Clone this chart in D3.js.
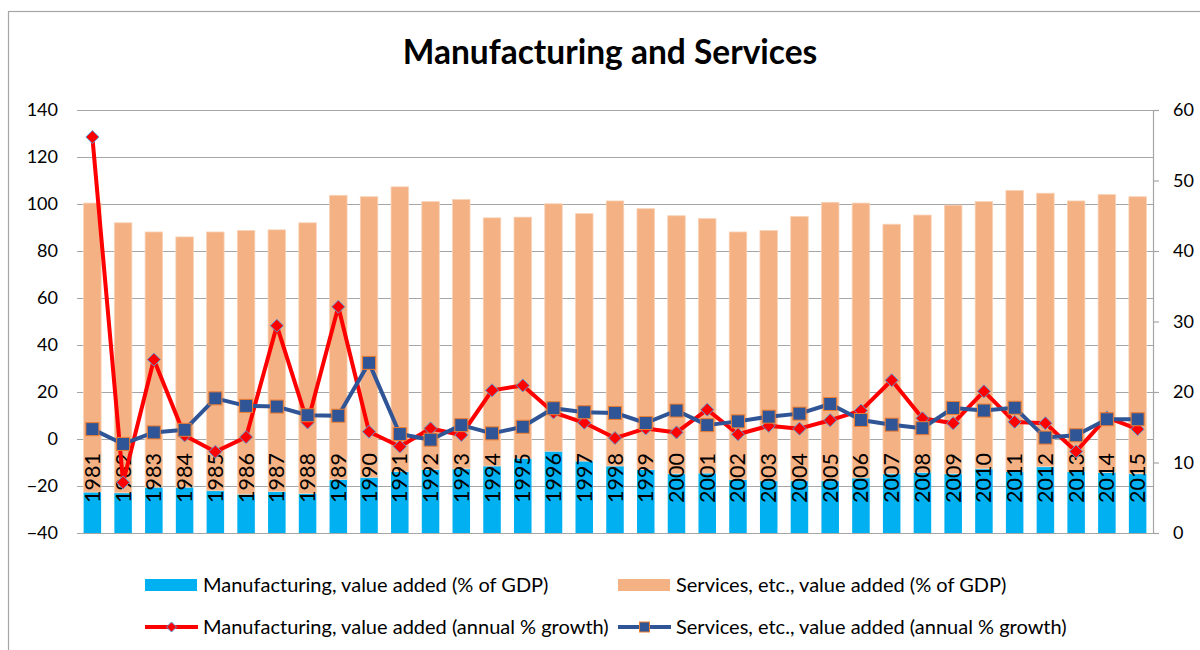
<!DOCTYPE html>
<html>
<head>
<meta charset="utf-8">
<script src="https://cdn.jsdelivr.net/npm/d3@7"></script>
<style>
  html, body { margin: 0; padding: 0; background: #fff; }
  svg { display: block; }
  text { font-family: Lato, "Open Sans", sans-serif; fill: #000; }
</style>
</head>
<body>
<svg id="chart" width="1200" height="650"></svg>
<script>
const years = ["1981","1982","1983","1984","1985","1986","1987","1988","1989","1990",
  "1991","1992","1993","1994","1995","1996","1997","1998","1999","2000",
  "2001","2002","2003","2004","2005","2006","2007","2008","2009","2010",
  "2011","2012","2013","2014","2015"];

// % of GDP (right axis), stacked
const manufShare = [5.8,5.7,6.5,6.5,6.0,5.5,5.9,5.6,7.6,7.9,
  8.7,9.0,9.1,9.5,10.6,11.6,10.2,9.5,9.0,8.4,
  8.5,7.6,7.4,7.4,7.4,7.8,8.4,8.6,8.4,9.1,
  8.7,9.4,8.7,8.6,8.4];
const servShare = [41.0,38.3,36.2,35.5,36.7,37.4,37.1,38.4,40.3,39.8,
  40.4,38.0,38.2,35.2,34.2,35.1,35.1,37.6,37.0,36.6,
  36.1,35.1,35.5,37.5,39.5,39.0,35.4,36.5,38.1,37.9,
  39.9,38.8,38.4,39.4,39.3];

// annual % growth (left axis)
const manufGrowth = [128.5,-18.5,33.8,1.5,-5.4,0.8,48.2,7.0,56.3,3.1,
  -3.2,4.5,1.7,20.7,22.8,11.3,6.9,0.4,4.5,2.8,
  12.5,2.0,5.6,4.4,8.0,12.1,25.0,8.8,6.7,20.3,
  7.3,6.7,-5.3,9.2,4.2];
const servGrowth = [4.2,-2.1,2.8,3.9,17.3,14.1,13.8,10.1,9.9,32.4,
  2.1,-0.3,5.9,2.4,5.2,13.1,11.4,11.1,6.8,12.1,
  5.9,7.5,9.5,10.8,14.9,8.1,6.1,4.6,13.2,12.1,
  13.3,0.6,1.6,8.4,8.4];

const leftTicks = [-40,-20,0,20,40,60,80,100,120,140];
const rightTicks = [0,10,20,30,40,50,60];

const legendLabels = [
  "Manufacturing, value added (% of GDP)",
  "Services, etc., value added (% of GDP)",
  "Manufacturing, value added (annual % growth)",
  "Services, etc., value added (annual % growth)"
];

const C = {
  manuf: "#00b0f0", serv: "#f4b183", red: "#ff0000", navy: "#2f5597",
  diamondEdge: "#5b9bd5", squareEdge: "#ed7d31", grid: "#a6a6a6"
};

const svg = d3.select("#chart");
const L = 77, R = 1153, T = 110, B = 533;

const x = d3.scaleBand().domain(years).range([L, R]).paddingInner(0.43).paddingOuter(0.215);
const yL = d3.scaleLinear().domain([-40, 140]).range([B, T]);
const yR = d3.scaleLinear().domain([0, 60]).range([B, T]);

// chart border
svg.append("rect").attr("x", 8.5).attr("y", 11.5).attr("width", 1400).attr("height", 900)
  .attr("fill", "none").attr("stroke", C.grid).attr("stroke-width", 1.2);

// title
svg.append("text").attr("x", 610).attr("y", 64).attr("text-anchor", "middle")
  .style("font-size", "33.5px").style("font-weight", "bold").text("Manufacturing and Services");

// gridlines + left axis labels
const gl = d3.axisLeft(yL).tickValues(leftTicks).tickSize(-(R - L)).tickFormat(d3.format("d"));
const gLeft = svg.append("g").attr("transform", `translate(${L},0)`).call(gl);
gLeft.select(".domain").remove();
gLeft.selectAll(".tick line").attr("stroke", C.grid).attr("stroke-width", 1.2);
gLeft.selectAll(".tick text").attr("x", -19).style("font-size", "18px")
  .style("font-family", "Lato, sans-serif").attr("fill", "#000");

// bars
const stackData = years.map((yr, i) => ({ year: yr, m: manufShare[i], s: servShare[i] }));
const series = d3.stack().keys(["m", "s"])(stackData);
const barG = svg.append("g");
barG.selectAll("g.series").data(series).join("g")
  .attr("fill", d => d.key === "m" ? C.manuf : C.serv)
  .attr("stroke", d => d.key === "m" ? "none" : "#f8d3b8")
  .attr("stroke-width", 0.8)
  .selectAll("rect").data(d => d).join("rect")
  .attr("x", d => x(d.data.year))
  .attr("width", x.bandwidth())
  .attr("y", d => yR(d[1]))
  .attr("height", d => yR(d[0]) - yR(d[1]));

// right axis
const ar = d3.axisRight(yR).tickValues(rightTicks).tickSize(6).tickFormat(d3.format("d"));
const gRight = svg.append("g").attr("transform", `translate(${R},0)`).call(ar);
gRight.select(".domain").attr("stroke", C.grid).attr("stroke-width", 1.2);
gRight.selectAll(".tick line").attr("stroke", C.grid).attr("stroke-width", 1.2);
gRight.selectAll(".tick text").attr("x", 20).style("font-size", "18px")
  .style("font-family", "Lato, sans-serif").attr("fill", "#000");

// category labels (rotated, at the 0 line)
const catG = svg.append("g");
catG.selectAll("text").data(years).join("text")
  .attr("transform", d => `translate(${x(d) + x.bandwidth() / 2 + 7.5},${yL(0) + 14}) rotate(-90)`)
  .attr("text-anchor", "end")
  .style("font-size", "21.5px")
  .text(d => d);

// lines
const lineGen = vals => d3.line()
  .x((d, i) => x(years[i]) + x.bandwidth() / 2)
  .y(d => yL(d))(vals);

const diamond = "M0,-6.5L6.5,0L0,6.5L-6.5,0Z";

svg.append("path").attr("d", lineGen(manufGrowth)).attr("fill", "none")
  .attr("stroke", C.red).attr("stroke-width", 4).attr("stroke-linejoin", "round");
svg.append("g").selectAll("path").data(manufGrowth).join("path")
  .attr("d", diamond)
  .attr("transform", (d, i) => `translate(${x(years[i]) + x.bandwidth() / 2},${yL(d)})`)
  .attr("fill", C.red).attr("stroke", C.diamondEdge).attr("stroke-width", 1);

svg.append("path").attr("d", lineGen(servGrowth)).attr("fill", "none")
  .attr("stroke", C.navy).attr("stroke-width", 4).attr("stroke-linejoin", "round");
svg.append("g").selectAll("rect").data(servGrowth).join("rect")
  .attr("x", (d, i) => x(years[i]) + x.bandwidth() / 2 - 6.5)
  .attr("y", d => yL(d) - 6.5)
  .attr("width", 13).attr("height", 13)
  .attr("fill", C.navy).attr("stroke", C.squareEdge).attr("stroke-width", 1);

// legend
const leg = svg.append("g");
const legPos = [[145, 585], [618, 585], [145, 627], [618, 627]];
leg.append("rect").attr("x", legPos[0][0]).attr("y", legPos[0][1] - 6).attr("width", 52).attr("height", 12).attr("fill", C.manuf);
leg.append("rect").attr("x", legPos[1][0]).attr("y", legPos[1][1] - 6).attr("width", 52).attr("height", 12).attr("fill", C.serv);
leg.append("line").attr("x1", legPos[2][0]).attr("x2", legPos[2][0] + 53).attr("y1", legPos[2][1]).attr("y2", legPos[2][1])
  .attr("stroke", C.red).attr("stroke-width", 4);
leg.append("path").attr("d", "M0,-5L5,0L0,5L-5,0Z").attr("transform", `translate(${legPos[2][0] + 26.5},${legPos[2][1]})`)
  .attr("fill", C.red).attr("stroke", C.diamondEdge).attr("stroke-width", 1);
leg.append("line").attr("x1", legPos[3][0]).attr("x2", legPos[3][0] + 53).attr("y1", legPos[3][1]).attr("y2", legPos[3][1])
  .attr("stroke", C.navy).attr("stroke-width", 4);
leg.append("rect").attr("x", legPos[3][0] + 21.5).attr("y", legPos[3][1] - 5).attr("width", 10).attr("height", 10)
  .attr("fill", C.navy).attr("stroke", C.squareEdge).attr("stroke-width", 1);
leg.selectAll("text.lab").data(legendLabels).join("text").attr("class", "lab")
  .attr("x", (d, i) => legPos[i][0] + 58)
  .attr("y", (d, i) => legPos[i][1])
  .attr("dy", "0.35em")
  .style("font-size", "20px")
  .text(d => d);
</script>
</body>
</html>
